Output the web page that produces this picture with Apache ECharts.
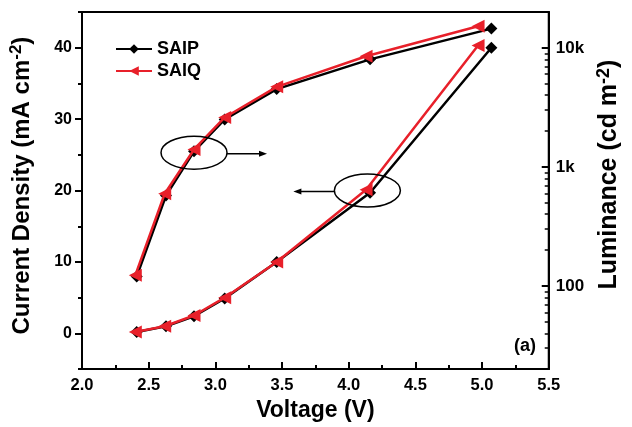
<!DOCTYPE html>
<html><head><meta charset="utf-8">
<script src="https://cdn.jsdelivr.net/npm/echarts@6/dist/echarts.min.js"></script>
<style>html,body{margin:0;padding:0;background:#fff}#c{width:632px;height:427px}</style>
</head><body><div id="c"></div>
<script>
// ---- data ----
const voltage_SAIP = [2.41, 2.63, 2.84, 3.07, 3.46, 4.16, 5.07];
const voltage_SAIQ = [2.40, 2.62, 2.84, 3.07, 3.46, 4.13, 4.97];
const current_SAIP = [0.2, 1.0, 2.4, 4.9, 10.0, 19.7, 40.0];
const current_SAIQ = [0.2, 1.0, 2.5, 5.0, 10.0, 20.1, 40.3];
const luminance_SAIP = [120, 575, 1350, 2500, 4500, 8000, 14500];
const luminance_SAIQ = [123, 595, 1400, 2600, 4700, 8500, 15200];
const xTicks = [2.0, 2.5, 3.0, 3.5, 4.0, 4.5, 5.0, 5.5];
const leftTicks = [0, 10, 20, 30, 40];
const rightTickValues = [100, 1000, 10000];
const rightTickLabels = ['100', '1k', '10k'];
// annotation anchors (data coordinates)
const ellipseLum = [2.84, 25.3];
const ellipseCur = [4.14, 20.0];

const FONT = '"Liberation Sans", Arial, sans-serif';
const L = v => Math.log10(v);
const lumMin = 20, lumMax = 20000;
const minorLum = [];
[10, 100, 1000, 10000].forEach(d => { for (let k = 1; k <= 9; k++) { const v = k * d; if (v >= lumMin && v <= lumMax && rightTickValues.indexOf(v) < 0) minorLum.push(L(v)); } });

const chart = echarts.init(document.getElementById('c'));
const lblStyle = { fontFamily: FONT, fontWeight: 'bold', fontSize: 16, color: '#000' };
function nameStyle(fs, sup, pad) {
  return {
    fontFamily: FONT, fontWeight: 'bold', fontSize: fs, color: '#000', padding: pad,
    rich: {
      a: { fontFamily: FONT, fontWeight: 'bold', fontSize: fs, color: '#000', lineHeight: fs + 4 },
      s: { fontFamily: FONT, fontWeight: 'bold', fontSize: sup, color: '#000', verticalAlign: 'top', lineHeight: fs + 4, padding: [0, 0, Math.round(fs * 0.45), 0] }
    }
  };
}
const axLine = { show: true, onZero: false, lineStyle: { color: '#000', width: 2 } };

function pairs(xs, ys, f) { return xs.map((x, i) => [x, f ? f(ys[i]) : ys[i]]); }

const option = {
  animation: false,
  backgroundColor: '#fff',
  grid: { left: 82, right: 77, top: 12, bottom: 57, show: true, borderColor: '#000', borderWidth: 2, backgroundColor: 'transparent' },
  legend: {
    data: ['SAIP', 'SAIQ'], orient: 'vertical', left: 110, top: 35, itemGap: 4,
    itemWidth: 36, itemHeight: 12,
    textStyle: { fontFamily: FONT, fontWeight: 'bold', fontSize: 18, color: '#000' }
  },
  xAxis: {
    type: 'value', min: xTicks[0], max: xTicks[xTicks.length - 1], interval: 0.5,
    name: 'Voltage (V)', nameLocation: 'middle', nameGap: 29,
    nameTextStyle: { fontFamily: FONT, fontWeight: 'bold', fontSize: 23, color: '#000' },
    axisLine: axLine, splitLine: { show: false },
    axisTick: { inside: true, length: 7, lineStyle: { width: 2, color: '#000' } },
    minorTick: { show: true, splitNumber: 2, length: 4, lineStyle: { width: 2, color: '#000' } },
    axisLabel: { ...lblStyle, fontSize: 16.5, margin: 8, formatter: v => v.toFixed(1) }
  },
  yAxis: [
    { // current density, minor ticks + labels
      type: 'value', position: 'left', min: -5, max: 45, interval: 5,
      name: '{a|Current Density (mA cm}{s|-2}{a|)}', nameLocation: 'middle', nameGap: 46,
      nameTextStyle: nameStyle(24, 17, [0, 0, 0, 10]),
      axisLine: axLine, splitLine: { show: false },
      axisTick: { inside: false, length: 4, lineStyle: { width: 2, color: '#000' } },
      axisLabel: { ...lblStyle, margin: 10, customValues: leftTicks, formatter: v => String(v) }
    },
    { // current density major ticks
      type: 'value', position: 'left', min: -5, max: 45,
      axisLine: { show: false, onZero: false }, splitLine: { show: false }, axisLabel: { show: false },
      axisTick: { show: true, inside: false, length: 7, customValues: leftTicks, lineStyle: { width: 2, color: '#000' } }
    },
    { // luminance (log10 scale) major ticks + labels
      type: 'value', position: 'right', min: L(lumMin), max: L(lumMax),
      name: '{a|Luminance (cd m}{s|-2}{a|)}', nameLocation: 'middle', nameGap: 44, nameRotate: 90,
      nameTextStyle: nameStyle(25, 18, [0, 0, 0, 32]),
      axisLine: axLine, splitLine: { show: false },
      axisTick: { inside: true, length: 7, customValues: rightTickValues.map(L), lineStyle: { width: 2, color: '#000' } },
      axisLabel: { ...lblStyle, fontSize: 17, margin: 7, customValues: rightTickValues.map(L),
        formatter: v => { const i = rightTickValues.findIndex(t => Math.abs(L(t) - v) < 1e-6); return i >= 0 ? rightTickLabels[i] : ''; } }
    },
    { // luminance minor ticks
      type: 'value', position: 'right', min: L(lumMin), max: L(lumMax),
      axisLine: { show: false, onZero: false }, splitLine: { show: false }, axisLabel: { show: false },
      axisTick: { show: true, inside: true, length: 4, customValues: minorLum, lineStyle: { width: 1.5, color: '#000' } }
    }
  ],
  series: [
    { name: 'SAIP', type: 'line', yAxisIndex: 0, data: pairs(voltage_SAIP, current_SAIP), symbol: 'diamond', symbolSize: 12,
      lineStyle: { color: '#000', width: 2.5 }, itemStyle: { color: '#000' }, z: 2 },
    { name: 'SAIP', type: 'line', yAxisIndex: 2, data: pairs(voltage_SAIP, luminance_SAIP, L), symbol: 'diamond', symbolSize: 12,
      lineStyle: { color: '#000', width: 2.5 }, itemStyle: { color: '#000' }, z: 2 },
    { name: 'SAIQ', type: 'line', yAxisIndex: 0, data: pairs(voltage_SAIQ, current_SAIQ), symbol: 'triangle', symbolSize: 13, symbolRotate: 90,
      lineStyle: { color: '#e8202a', width: 2.5 }, itemStyle: { color: '#e8202a' }, z: 3 },
    { name: 'SAIQ', type: 'line', yAxisIndex: 2, data: pairs(voltage_SAIQ, luminance_SAIQ, L), symbol: 'triangle', symbolSize: 13, symbolRotate: 90,
      lineStyle: { color: '#e8202a', width: 2.5 }, itemStyle: { color: '#e8202a' }, z: 3 }
  ]
};
chart.setOption(option);

// annotations: ellipses with arrows, anchored to data coordinates
const p1 = chart.convertToPixel({ xAxisIndex: 0, yAxisIndex: 0 }, ellipseLum);
const p2 = chart.convertToPixel({ xAxisIndex: 0, yAxisIndex: 0 }, ellipseCur);
const rx = 33, ry = 16.5;
function arrow(x0, x1, y) {
  const dir = Math.sign(x1 - x0);
  return [
    { type: 'line', shape: { x1: x0, y1: y, x2: x1 - dir * 7, y2: y }, style: { stroke: '#000', lineWidth: 1.5 }, z: 10 },
    { type: 'polygon', shape: { points: [[x1, y], [x1 - dir * 8, y - 3], [x1 - dir * 8, y + 3]] }, style: { fill: '#000' }, z: 10 }
  ];
}
chart.setOption({
  graphic: [
    { type: 'ellipse', shape: { cx: p1[0], cy: p1[1], rx: rx, ry: ry }, style: { fill: 'none', stroke: '#000', lineWidth: 1.5 }, z: 10 },
    ...arrow(p1[0] + rx, p1[0] + rx + 40, p1[1] + 1),
    { type: 'ellipse', shape: { cx: p2[0], cy: p2[1], rx: rx, ry: ry }, style: { fill: 'none', stroke: '#000', lineWidth: 1.5 }, z: 10 },
    ...arrow(p2[0] - rx, p2[0] - rx - 41, p2[1] + 1),
    { type: 'text', right: 96, top: 337, style: { text: '(a)', font: 'bold 18px ' + FONT, fill: '#000' }, z: 10 }
  ]
});
</script></body></html>
